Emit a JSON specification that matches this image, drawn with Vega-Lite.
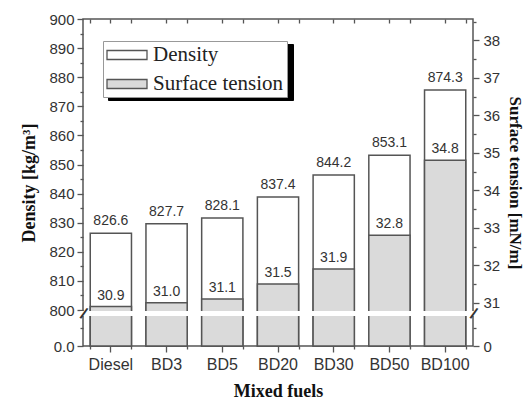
{
  "$schema": "https://vega.github.io/schema/vega-lite/v6.json",
  "width": 390,
  "height": 327,
  "autosize": {"type": "pad"},
  "padding": {"left": 20, "top": 12, "right": 0, "bottom": 0},
  "background": "white",
  "config": {
    "view": {"stroke": "#555", "strokeWidth": 1.5},
    "axis": {"grid": false, "domain": false, "tickColor": "#555", "tickWidth": 1.3, "labelOverlap": false, "labelBound": false, "labelFlush": false, "zindex": 1}
  },
  "data": {
    "values": [
      {"fuel": "Diesel", "density": 826.6, "density_bar": 826.4, "surface": 30.9},
      {"fuel": "BD3", "density": 827.7, "density_bar": 829.6, "surface": 31.0},
      {"fuel": "BD5", "density": 828.1, "density_bar": 831.6, "surface": 31.1},
      {"fuel": "BD20", "density": 837.4, "density_bar": 838.8, "surface": 31.5},
      {"fuel": "BD30", "density": 844.2, "density_bar": 846.4, "surface": 31.9},
      {"fuel": "BD50", "density": 853.1, "density_bar": 853.2, "surface": 32.8},
      {"fuel": "BD100", "density": 874.3, "density_bar": 875.6, "surface": 34.8}
    ]
  },
  "layer": [
    {
      "mark": {"type": "bar", "strokeWidth": 1.5},
      "encoding": {
        "x": {"field": "fuel", "type": "nominal", "sort": null,
          "scale": {"paddingInner": 0.26, "paddingOuter": 0.13},
          "axis": {"orient": "bottom", "labelAngle": 0, "labelFont": "Liberation Sans", "labelFontSize": 16, "labelColor": "#333", "labelPadding": 4, "tickSize": 6,
            "title": "Mixed fuels", "titleFont": "Liberation Serif", "titleFontSize": 18, "titleFontWeight": "bold", "titleColor": "#111", "titlePadding": 10}},
        "y": {"field": "density_bar", "type": "quantitative",
          "scale": {"domain": [0, 800, 900], "range": [327, 291, 0], "nice": false, "zero": false},
          "axis": {"orient": "left", "values": [0, 800, 810, 820, 830, 840, 850, 860, 870, 880, 890, 900],
            "labelExpr": "datum.value == 0 ? '0.0' : '' + datum.value",
            "labelFont": "Liberation Sans", "labelFontSize": 15, "labelColor": "#333", "labelPadding": 3, "tickSize": 6,
            "title": "Density  [kg/m³]", "titleFont": "Liberation Serif", "titleFontSize": 18, "titleFontWeight": "bold", "titleColor": "#111", "titlePadding": 10}},
        "fill": {"datum": "Density", "type": "nominal",
          "scale": {"domain": ["Density", "Surface tension"], "range": ["#ffffff", "#dadada"]},
          "legend": {"orient": "none", "legendX": 20, "legendY": 22, "title": null, "direction": "vertical",
            "padding": 3, "symbolType": "M-2,-0.45H2V0.45H-2Z", "symbolSize": 400, "symbolOffset": 10,
            "symbolStrokeColor": "#555", "symbolStrokeWidth": 1.3, "labelOffset": 15, "rowPadding": 8,
            "labelFont": "Liberation Serif", "labelFontSize": 21, "labelColor": "#222",
            "strokeColor": "#999", "fillColor": "white", "zindex": 2}},
        "stroke": {"datum": "D", "type": "nominal",
          "scale": {"domain": ["D", "S"], "range": ["#555", "#555"]},
          "legend": {"orient": "top-left", "offset": 25, "title": null, "direction": "vertical",
            "padding": 3, "symbolType": "M-2,-0.45H2V0.45H-2Z", "symbolSize": 400, "symbolOffset": 10,
            "symbolOpacity": 0, "labelOffset": 147, "rowPadding": 8,
            "labelExpr": "' '",
            "labelFont": "Liberation Serif", "labelFontSize": 21, "labelColor": "black",
            "strokeColor": "black", "fillColor": "black", "zindex": 1}}
      }
    },
    {
      "mark": {"type": "bar", "strokeWidth": 1.5},
      "encoding": {
        "x": {"field": "fuel", "type": "nominal", "sort": null,
          "axis": {"orient": "bottom", "tickBand": "extent", "labels": false, "tickSize": 3, "title": null}},
        "y": {"field": "surface", "type": "quantitative",
          "scale": {"domain": [0, 30.81, 38.567], "range": [327, 291, 0], "nice": false, "zero": false},
          "axis": {"orient": "right", "values": [0, 31, 32, 33, 34, 35, 36, 37, 38],
            "labelExpr": "'' + datum.value",
            "labelFont": "Liberation Sans", "labelFontSize": 15, "labelColor": "#333", "labelPadding": 4, "tickSize": 6,
            "title": "Surface tension  [mN/m]", "titleAngle": 90, "titleFont": "Liberation Serif", "titleFontSize": 17, "titleFontWeight": "bold", "titleColor": "#111", "titlePadding": 6}},
        "fill": {"datum": "Surface tension", "type": "nominal"},
        "stroke": {"datum": "S", "type": "nominal"}
      }
    },
    {
      "data": {"values": [{}]},
      "mark": {"type": "rule", "color": "white", "strokeWidth": 5, "strokeCap": "square"},
      "encoding": {
        "y": {"datum": 722, "type": "quantitative",
          "scale": {"domain": [0, 800, 900], "range": [327, 291, 0], "nice": false, "zero": false},
          "axis": {"orient": "left", "values": [722], "labelExpr": "'/'", "ticks": false, "tickSize": 0, "labelPadding": 0,
            "labelAlign": "center", "labelBaseline": "middle", "labelAngle": 25, "labelFont": "Liberation Sans", "labelFontSize": 16, "labelFontWeight": "bold", "labelColor": "#333", "title": null, "zindex": 3}}
      }
    },
    {
      "data": {"values": [{}]},
      "mark": {"type": "rule", "color": "white", "strokeWidth": 5, "strokeCap": "square"},
      "encoding": {
        "y": {"datum": 27.8, "type": "quantitative",
          "scale": {"domain": [0, 30.81, 38.567], "range": [327, 291, 0], "nice": false, "zero": false},
          "axis": {"orient": "right", "values": [27.8], "labelExpr": "'/'", "ticks": false, "tickSize": 0, "labelPadding": 0,
            "labelAlign": "center", "labelBaseline": "middle", "labelAngle": 25, "labelFont": "Liberation Sans", "labelFontSize": 16, "labelFontWeight": "bold", "labelColor": "#333", "title": null, "zindex": 3}}
      }
    },
    {
      "mark": {"type": "text", "font": "Liberation Sans", "fontSize": 14, "color": "#333", "baseline": "alphabetic", "dy": -8},
      "encoding": {
        "x": {"field": "fuel", "type": "nominal", "sort": null,
          "axis": {"orient": "top", "labels": false, "tickSize": -4, "title": null}},
        "y": {"field": "density_bar", "type": "quantitative",
          "scale": {"domain": [0, 800, 900], "range": [327, 291, 0], "nice": false, "zero": false},
          "axis": {"orient": "left", "values": [400, 805, 815, 825, 835, 845, 855, 865, 875, 885, 895], "labels": false, "tickSize": 3, "title": null}},
        "text": {"field": "density", "type": "quantitative", "format": ".1f"}
      }
    },
    {
      "mark": {"type": "text", "font": "Liberation Sans", "fontSize": 14, "color": "#333", "baseline": "alphabetic", "dy": -7},
      "encoding": {
        "x": {"field": "fuel", "type": "nominal", "sort": null,
          "axis": {"orient": "top", "tickBand": "extent", "labels": false, "tickSize": -4, "title": null}},
        "y": {"field": "surface", "type": "quantitative",
          "scale": {"domain": [0, 30.81, 38.567], "range": [327, 291, 0], "nice": false, "zero": false},
          "axis": {"orient": "right", "values": [15, 31.5, 32.5, 33.5, 34.5, 35.5, 36.5, 37.5, 38.5], "labels": false, "tickSize": 3, "title": null}},
        "text": {"field": "surface", "type": "quantitative", "format": ".1f"}
      }
    }
  ],
  "resolve": {"scale": {"y": "independent"}, "axis": {"x": "independent"}}
}
